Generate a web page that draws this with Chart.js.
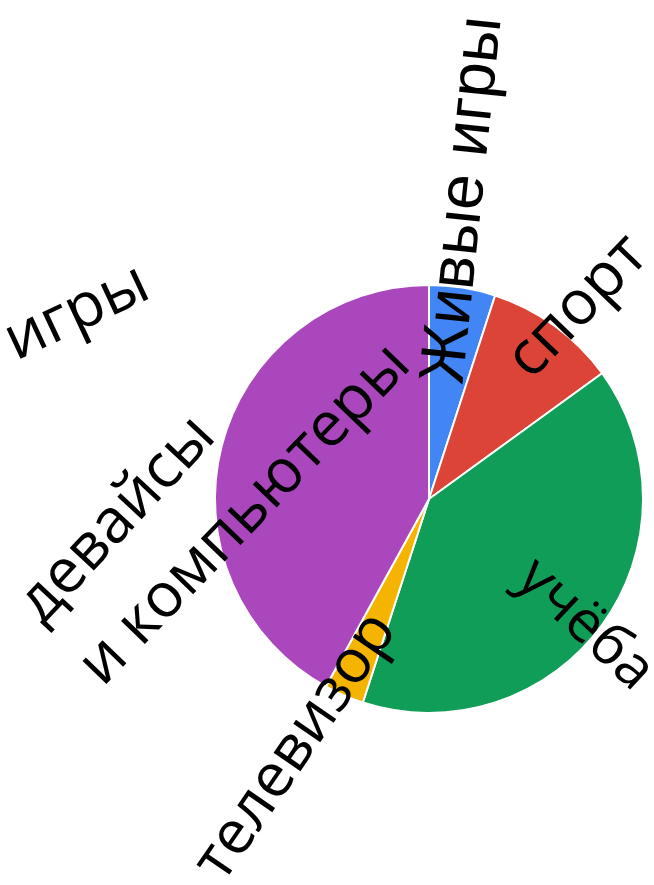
<!DOCTYPE html>
<html>
<head>
<meta charset="utf-8">
<script src="https://cdn.jsdelivr.net/npm/chart.js@4/dist/chart.umd.min.js"></script>
<style>
  html, body { margin: 0; padding: 0; background: #fff; }
  #wrap { width: 654px; height: 885px; }
</style>
</head>
<body>
<div id="wrap"><canvas id="viz" width="654" height="885"></canvas></div>
<script>
// categories and shares (percent), clockwise from 12 o'clock
var categories = ['Живые игры', 'спорт', 'учёба', 'телевизор', ['девайсы', 'и компьютеры', 'игры']];
var shares = [5, 10, 40, 3, 42];
var sliceColors = ['#4285f4', '#db4437', '#0f9d58', '#f4b400', '#ab47bc'];

// where each label line sits, relative to the pie centre (px), and its angle (deg)
var labelPlacement = [
  [{ dx: 35, dy: -299, rot: -84, font: '64px "Liberation Sans"' }],
  [{ dx: 149, dy: -192, rot: -46, font: '62px "Open Sans"' }],
  [{ dx: 156, dy: 126, rot: 43, font: '58px "Open Sans"' }],
  [{ dx: -133, dy: 248, rot: -55.5, font: '61px "Open Sans"' }],
  [
    { dx: -312, dy: 21, rot: -47, font: '62px "Open Sans"' },
    { dx: -184, dy: 16, rot: -46, font: '62px "Open Sans"' },
    { dx: -352, dy: -186, rot: -25, font: '62px "Open Sans"' }
  ]
];

var rotatedLabels = {
  id: 'rotatedLabels',
  afterDatasetsDraw: function (chart) {
    var ctx = chart.ctx;
    var arcs = chart.getDatasetMeta(0).data;
    ctx.save();
    ctx.fillStyle = '#000';
    ctx.textAlign = 'center';
    ctx.textBaseline = 'middle';
    arcs.forEach(function (arc, i) {
      var lines = Array.isArray(categories[i]) ? categories[i] : [categories[i]];
      lines.forEach(function (text, j) {
        var p = labelPlacement[i][j];
        ctx.save();
        ctx.translate(arc.x + p.dx, arc.y + p.dy);
        ctx.rotate(p.rot * Math.PI / 180);
        ctx.font = p.font;
        ctx.fillText(text, 0, 0);
        ctx.restore();
      });
    });
    ctx.restore();
  }
};

var context = document.getElementById('viz').getContext('2d');
var chart = new Chart(context, {
  type: 'pie',
  data: {
    labels: categories,
    datasets: [
      {
        data: shares,
        backgroundColor: sliceColors,
        borderColor: '#ffffff',
        borderWidth: 2
      }
    ]
  },
  options: {
    responsive: false,
    animation: false,
    radius: 214,
    layout: { padding: { left: 204, right: 0, top: 113, bottom: 0 } },
    plugins: {
      legend: { display: false },
      tooltip: { enabled: false }
    }
  },
  plugins: [rotatedLabels]
});
</script>
</body>
</html>
